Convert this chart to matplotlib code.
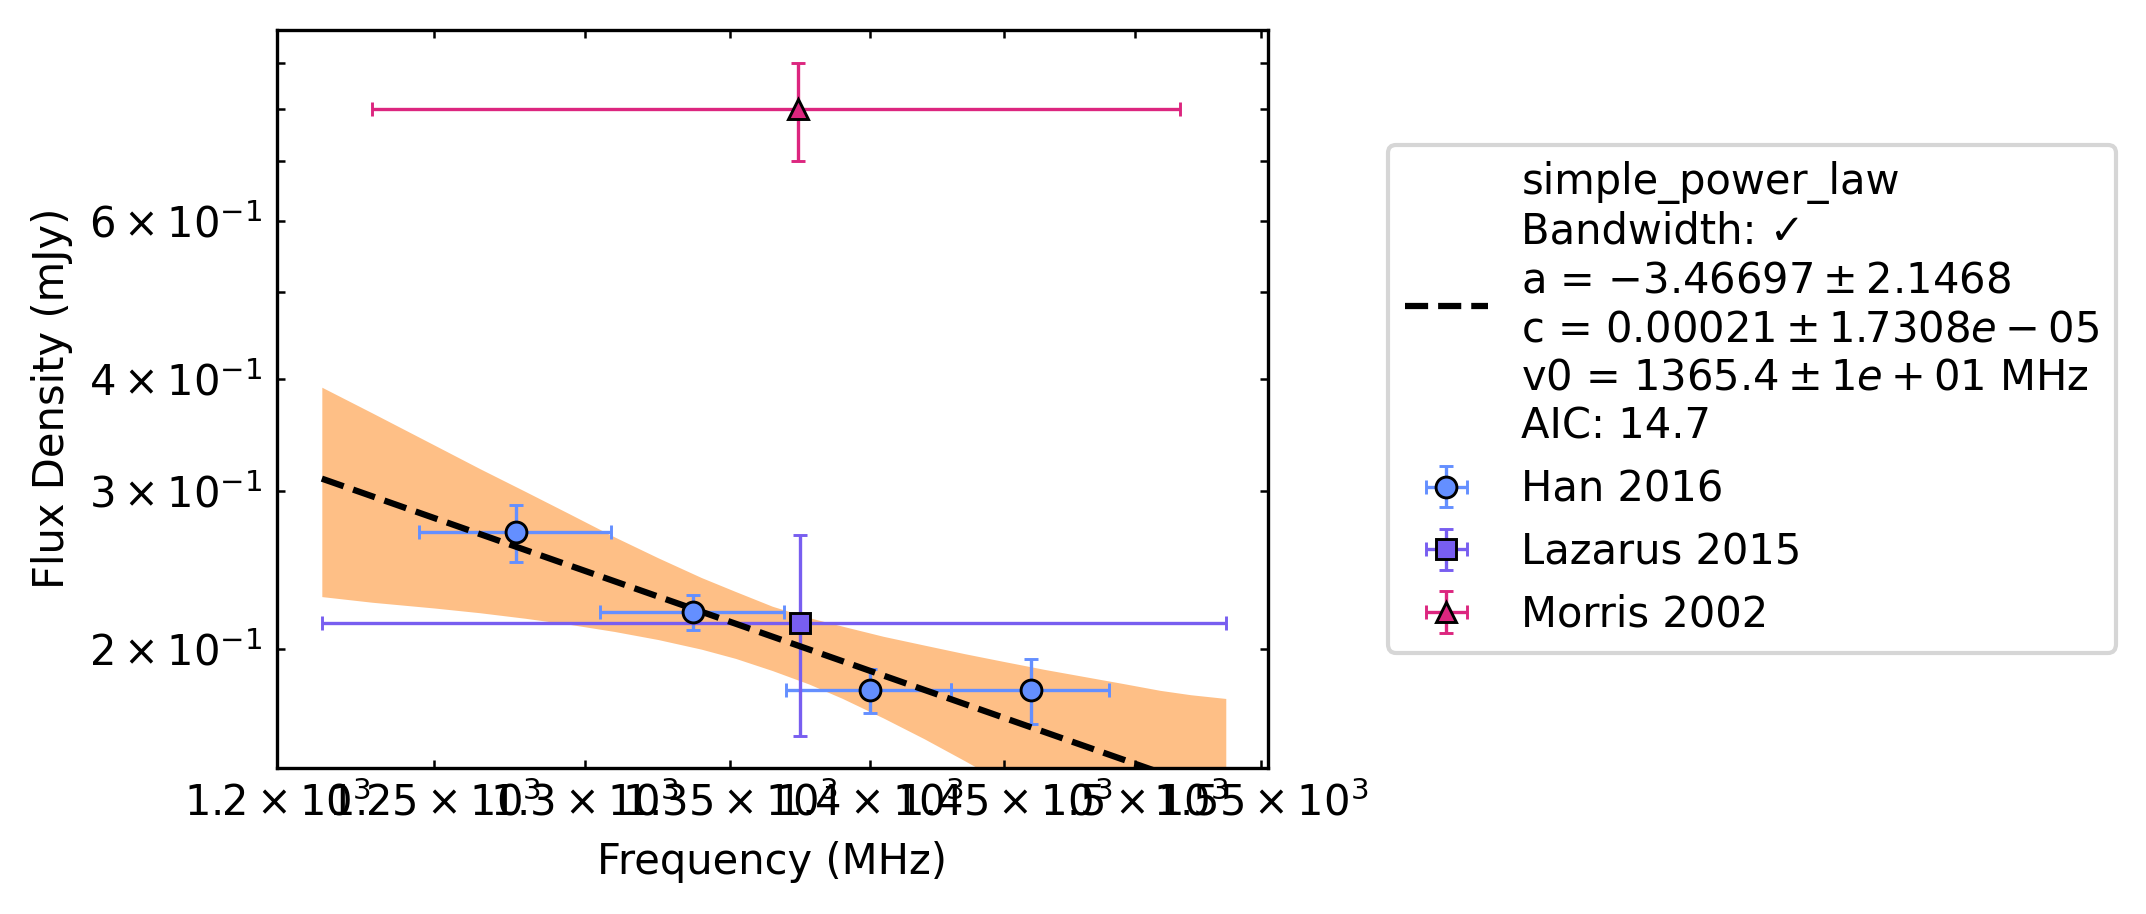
import matplotlib
matplotlib.use("Agg")
import matplotlib.pyplot as plt

plt.rcParams['font.family'] = ['DejaVu Sans']
plt.rcParams['font.size'] = 10

# ---- data ----
han_freq = [1277, 1337, 1400, 1460]
han_freq_err = [32, 32, 30, 30]
han_flux = [0.270, 0.220, 0.180, 0.180]
han_flux_err = [0.020, 0.010, 0.010, 0.015]

laz_freq = [1375]
laz_freq_err = [161]
laz_flux = [0.214]
laz_flux_err = [0.054]

mor_freq = [1374]
mor_freq_err = [144]
mor_flux = [0.80]
mor_flux_err = [0.10]

fit_freq = [1214, 1536]
fit_flux = [0.310, 0.1374]

band_freq = [1214, 1230, 1250, 1265, 1280, 1295, 1310, 1325, 1340, 1352, 1365, 1378,
             1390, 1405, 1420, 1435, 1450, 1465, 1480, 1495, 1510, 1522, 1536]
band_upper = [0.392, 0.367, 0.338, 0.318, 0.300, 0.283, 0.267, 0.253, 0.2405, 0.232, 0.2234, 0.217,
              0.2123, 0.2068, 0.2022, 0.1978, 0.1938, 0.1900, 0.1866, 0.1833, 0.1800, 0.1780, 0.1763]
band_lower = [0.229, 0.2257, 0.2224, 0.2197, 0.2166, 0.2132, 0.2094, 0.2051, 0.2001, 0.1954, 0.1894, 0.1830,
              0.1764, 0.1677, 0.1590, 0.1503, 0.1419, 0.1339, 0.1262, 0.1189, 0.1119, 0.1066, 0.1009]

fit_label = ("simple_power_law\nBandwidth: \u2713\n"
             "a = $-3.46697 \\pm 2.1468$\n"
             "c = $0.00021 \\pm 1.7308e-05$\n"
             "v0 = $1365.4 \\pm 1e+01$ MHz\n"
             "AIC: 14.7")

fig = plt.figure(figsize=(2146 / 300, 914 / 300), dpi=300)
ax = fig.add_axes([0.1289, 0.1601, 0.4620, 0.8076])

ax.fill_between(band_freq, band_lower, band_upper, color='#FEBF86', linewidth=0, zorder=1)

eb_kw = dict(linestyle='none', markersize=5, markeredgecolor='black', markeredgewidth=0.7,
             elinewidth=0.8, capsize=1.6, capthick=0.8)
ax.errorbar(han_freq, han_flux, xerr=han_freq_err, yerr=han_flux_err, fmt='o',
            color='#648FFF', label='Han 2016', **eb_kw)
ax.errorbar(laz_freq, laz_flux, xerr=laz_freq_err, yerr=laz_flux_err, fmt='s',
            color='#785EF0', label='Lazarus 2015', **eb_kw)
ax.errorbar(mor_freq, mor_flux, xerr=mor_freq_err, yerr=mor_flux_err, fmt='^',
            color='#DC267F', label='Morris 2002', **eb_kw)

ax.plot(fit_freq, fit_flux, linestyle='--', color='black', linewidth=1.5, label=fit_label, zorder=2)

ax.set_xscale('log')
ax.set_yscale('log')
ax.set_xlim(1199.8, 1553)
ax.set_ylim(0.1476, 0.982)

ax.tick_params(which='both', direction='in', top=True, right=True)
ax.set_xlabel('Frequency (MHz)')
ax.set_ylabel('Flux Density (mJy)')

ax.legend(loc='center left', bbox_to_anchor=(1.1, 0.5))

fig.savefig('out.png', dpi=300)
